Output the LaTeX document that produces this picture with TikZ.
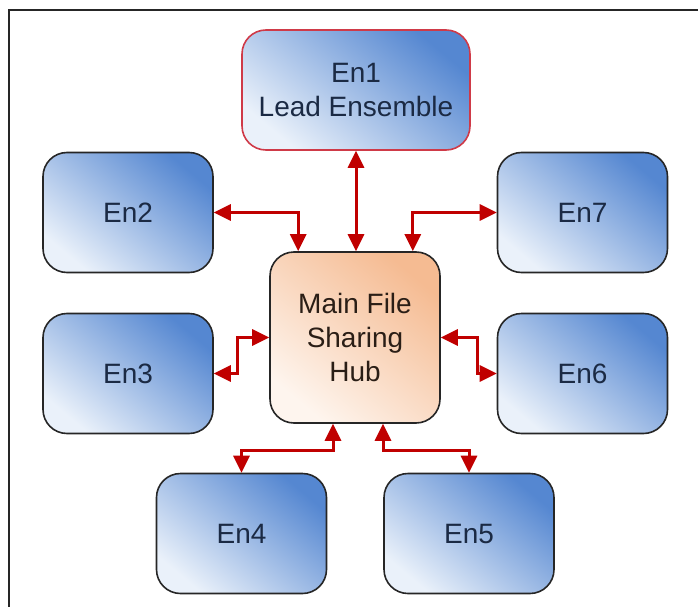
\documentclass[tikz,border=0pt]{standalone}
\usepackage{fontspec}
\setmainfont{Liberation Sans}
\usetikzlibrary{arrows.meta}

\definecolor{boxdark}{HTML}{5587D1}
\definecolor{boxmid}{HTML}{6D98D8}
\definecolor{boxlight}{HTML}{EAF1FA}
\definecolor{hubdark}{HTML}{F5BB92}
\definecolor{hubmid}{HTML}{F8CFAF}
\definecolor{hublight}{HTML}{FEF5EE}
\definecolor{enstext}{HTML}{1B2A44}
\definecolor{hubtext}{HTML}{2A1E16}
\definecolor{linkred}{HTML}{C00000}
\definecolor{leadborder}{HTML}{CF3A48}

\begin{document}
\begin{tikzpicture}[x=1pt,y=-1pt,
  ens/.style={draw=black!85, line width=1.6pt, rounded corners=24pt,
    minimum width=170pt, minimum height=120pt, inner sep=0pt,
    top color=boxdark, middle color=boxmid, bottom color=boxlight,
    shading angle=-40,
    text=enstext, align=center, font=\fontsize{28}{34}\selectfont},
  lead/.style={ens, draw=leadborder, minimum width=228pt},
  hubbox/.style={ens, top color=hubdark, middle color=hubmid,
    bottom color=hublight, shading angle=-40,
    minimum height=171pt, text=hubtext},
  link/.style={draw=linkred, line width=3pt,
    {Triangle[length=17pt,width=16pt]}-{Triangle[length=17pt,width=16pt]}}
]
  \useasboundingbox (0,0) rectangle (698,607);

  % frame along the top and left edges
  \draw[line width=2pt, black!85] (9,607) -- (9,10) -- (698,10);

  % ensembles and the central hub
  \node[lead] (en1) at (356,90) {En1\\Lead Ensemble};
  \node[ens] (en2) at (128,212.5) {En2};
  \node[ens] (en3) at (128,373.5) {En3};
  \node[ens] (en7) at (582.5,212.5) {En7};
  \node[ens] (en6) at (582.5,373.5) {En6};
  \node[ens] (en4) at (241.5,533.5) {En4};
  \node[ens] (en5) at (469,533.5) {En5};
  \node[hubbox] (hub) at (355,337.5) {Main File\\Sharing\\Hub};

  % two-way links to the hub
  \draw[link] (en1.south) -- (en1.south |- hub.north);
  \draw[link] (en2.east) -| ([xshift=29pt]hub.north west);
  \draw[link] (en7.west) -| ([xshift=-28pt]hub.north east);
  \draw[link] (hub.west) -| ([xshift=24pt]en3.east) -- (en3.east);
  \draw[link] (hub.east) -| ([xshift=-19pt]en6.west) -- (en6.west);
  \draw[link] ([xshift=-22pt]hub.south) |- ([yshift=22pt]en4.north) -- (en4.north);
  \draw[link] ([xshift=28pt]hub.south) |- ([yshift=22pt]en5.north) -- (en5.north);
\end{tikzpicture}
\end{document}
